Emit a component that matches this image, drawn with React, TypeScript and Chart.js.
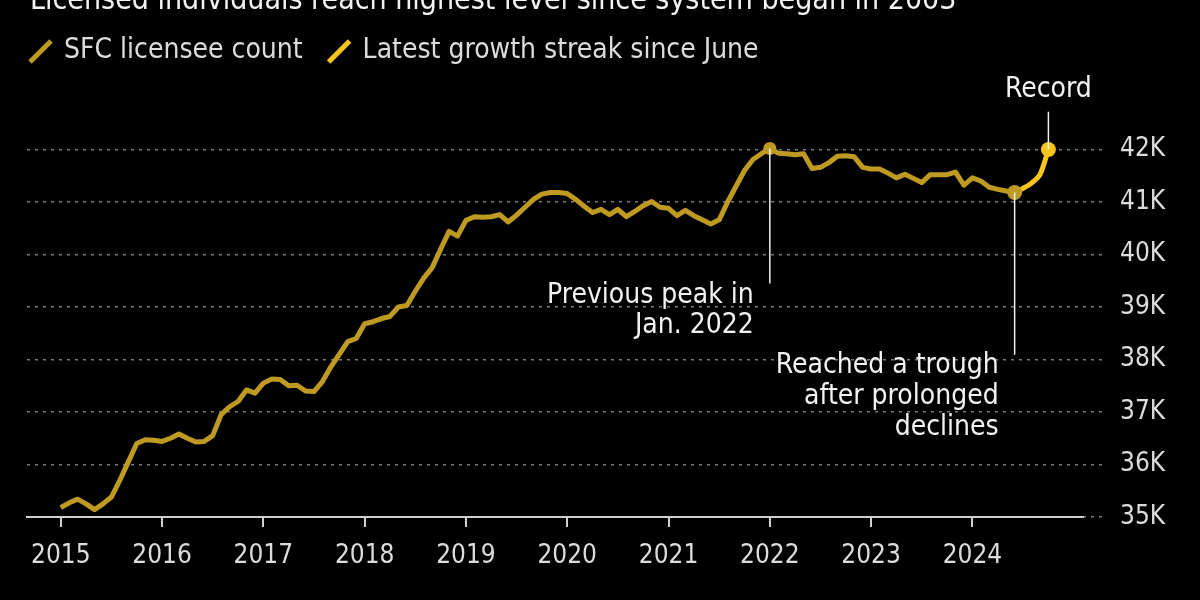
import { useEffect, useRef } from "react";
import { Chart, registerables } from "chart.js";

Chart.register(...registerables);

// ---- Data ----
const titleText = "Licensed individuals reach highest level since system began in 2003";
const seriesNames = ["SFC licensee count", "Latest growth streak since June"];
const startYear = 2015;
const yearTicks = [2015, 2016, 2017, 2018, 2019, 2020, 2021, 2022, 2023, 2024];
const yTickValues = [35, 36, 37, 38, 39, 40, 41, 42];

// Monthly licensee count (thousands), Jan 2015 – Oct 2024
const licenseeCount = [
  35.18, 35.27, 35.34, 35.25, 35.14, 35.25, 35.38, 35.7, 36.05, 36.4, 36.47, 36.46,
  36.44, 36.5, 36.58, 36.5, 36.43, 36.44, 36.55, 36.95, 37.1, 37.2, 37.42, 37.36,
  37.55, 37.63, 37.62, 37.5, 37.51, 37.4, 37.39, 37.58, 37.86, 38.1, 38.34, 38.4,
  38.68, 38.72, 38.78, 38.82, 39.0, 39.03, 39.3, 39.55, 39.75, 40.1, 40.44, 40.35,
  40.65, 40.72, 40.71, 40.72, 40.76, 40.62, 40.75, 40.9, 41.05, 41.15, 41.18, 41.18,
  41.16, 41.05, 40.92, 40.8, 40.86, 40.76, 40.86, 40.72, 40.82, 40.93, 41.01, 40.9,
  40.88, 40.74, 40.84, 40.74, 40.66, 40.58, 40.66, 41.0, 41.3, 41.6, 41.81, 41.92,
  42.02, 41.93, 41.92, 41.9, 41.92, 41.64, 41.66, 41.75, 41.87, 41.88, 41.86, 41.66,
  41.63, 41.63, 41.55, 41.46, 41.53, 41.45, 41.37, 41.52, 41.52, 41.52, 41.57, 41.32,
  41.46, 41.4, 41.28, 41.24, 41.21, 41.18, 41.26, 41.36, 41.52, 42.0,
];
const peakIndex = 84; // Jan 2022
const troughIndex = 113; // Jun 2024
const recordIndex = 117; // Oct 2024

const peakLabel = ["Previous peak in", "Jan. 2022"];
const troughLabel = ["Reached a trough", "after prolonged", "declines"];
const recordLabel = "Record";
const peakLineEnd = 39.45;
const troughLineEnd = 38.09;
const recordLineTop = 42.72;

// ---- Styles ----
const FONT = '"DejaVu Sans Condensed", "DejaVu Sans", sans-serif';
const MAIN = "#bf9a22";
const STREAK = "#f8c51c";
const TEXT = "#dcdcdc";
const WHITE = "#f2f2f2";

const mainData = licenseeCount.slice(0, troughIndex + 1).map((v, i) => ({ x: i, y: v }));
const streakData = licenseeCount.slice(troughIndex).map((v, i) => ({ x: i + troughIndex, y: v }));

const overlayPlugin = {
  id: "overlay",
  afterDraw(chart: any) {
    const ctx = chart.ctx as CanvasRenderingContext2D;
    const xs = chart.scales.x;
    const ys = chart.scales.y;
    ctx.save();
    // title (cut off at top)
    ctx.fillStyle = WHITE;
    ctx.font = `30px ${FONT}`;
    ctx.textBaseline = "alphabetic";
    ctx.textAlign = "left";
    ctx.fillText(titleText, 30, 9);

    // legend
    ctx.font = `28px ${FONT}`;
    ctx.textBaseline = "middle";
    let lx = 30;
    const colors = [MAIN, STREAK];
    seriesNames.forEach((name, i) => {
      ctx.strokeStyle = colors[i];
      ctx.lineWidth = 5;
      ctx.lineCap = "butt";
      ctx.beginPath();
      ctx.moveTo(lx, 62);
      ctx.lineTo(lx + 21, 41);
      ctx.stroke();
      ctx.fillStyle = TEXT;
      ctx.fillText(name, lx + 34, 51);
      lx = lx + 34 + ctx.measureText(name).width + 26;
    });

    // annotations
    ctx.strokeStyle = WHITE;
    ctx.lineWidth = 1.5;
    ctx.fillStyle = WHITE;
    ctx.font = `28px ${FONT}`;
    ctx.textBaseline = "middle";

    const px = xs.getPixelForValue(peakIndex);
    const pyTop = ys.getPixelForValue(licenseeCount[peakIndex]);
    const pyBot = ys.getPixelForValue(peakLineEnd);
    ctx.beginPath();
    ctx.moveTo(px, pyTop);
    ctx.lineTo(px, pyBot);
    ctx.stroke();
    ctx.textAlign = "right";
    peakLabel.forEach((t, i) => ctx.fillText(t, px - 16, pyBot + 12 + i * 30));

    const tx = xs.getPixelForValue(troughIndex);
    const tyTop = ys.getPixelForValue(licenseeCount[troughIndex]);
    const tyBot = ys.getPixelForValue(troughLineEnd);
    ctx.beginPath();
    ctx.moveTo(tx, tyTop);
    ctx.lineTo(tx, tyBot);
    ctx.stroke();
    troughLabel.forEach((t, i) => ctx.fillText(t, tx - 16, tyBot + 11 + i * 31));

    const rx = xs.getPixelForValue(recordIndex);
    const ryBot = ys.getPixelForValue(licenseeCount[recordIndex]);
    const ryTop = ys.getPixelForValue(recordLineTop);
    ctx.beginPath();
    ctx.moveTo(rx, ryBot);
    ctx.lineTo(rx, ryTop);
    ctx.stroke();
    ctx.textAlign = "center";
    ctx.fillText(recordLabel, rx, ryTop - 22);
    ctx.restore();
  },
};

export default function App() {
  const canvasRef = useRef<HTMLCanvasElement | null>(null);

  useEffect(() => {
    if (!canvasRef.current) return;
    const chart = new Chart(canvasRef.current, {
      type: "line",
      data: {
        datasets: [
          {
            label: seriesNames[0],
            data: mainData,
            borderColor: MAIN,
            backgroundColor: MAIN,
            borderWidth: 5,
            borderJoinStyle: "round",
            tension: 0,
            pointRadius: mainData.map((_, i) => (i === peakIndex ? 6.5 : i === troughIndex ? 7.5 : 0)),
            pointBorderWidth: 0,
          },
          {
            label: seriesNames[1],
            data: streakData,
            borderColor: STREAK,
            backgroundColor: STREAK,
            borderWidth: 5,
            tension: 0.3,
            pointRadius: streakData.map((p) => (p.x === recordIndex ? 7.5 : 0)),
            pointBorderWidth: 0,
          },
        ],
      },
      options: {
        animation: false,
        responsive: false,
        maintainAspectRatio: false,
        layout: { padding: { left: 27, top: 118, right: 0, bottom: 0 } },
        plugins: { legend: { display: false }, tooltip: { enabled: false }, title: { display: false } },
        scales: {
          x: {
            type: "linear",
            min: -4,
            max: 121.1,
            afterBuildTicks: (s: any) => {
              s.ticks = yearTicks.map((y) => ({ value: (y - startYear) * 12 }));
            },
            afterFit: (s: any) => {
              s.height = 83;
            },
            ticks: {
              color: TEXT,
              font: { family: FONT, size: 26 },
              padding: 14,
              maxRotation: 0,
              autoSkip: false,
              callback: (v: any) => String(startYear + Math.round(Number(v) / 12)),
            },
            grid: { drawOnChartArea: false, drawTicks: true, tickLength: 10, color: "#cfcfcf", lineWidth: 2 },
            border: { color: "#cfcfcf", width: 2 },
          },
          y: {
            position: "right",
            min: 35,
            max: 42.6,
            afterBuildTicks: (s: any) => {
              s.ticks = yTickValues.map((v) => ({ value: v }));
            },
            afterFit: (s: any) => {
              s.width = 117;
            },
            ticks: {
              color: TEXT,
              font: { family: FONT, size: 26 },
              padding: 15,
              callback: (v: any) => `${v}K`,
            },
            grid: {
              color: "#7a7a7a",
              lineWidth: 1.5,
              drawTicks: true,
              tickLength: 22,
              tickColor: "#7a7a7a",
              tickBorderDash: [3, 5],
            },
            border: { display: false, dash: [3, 5] },
          },
        },
      },
      plugins: [overlayPlugin],
    });
    return () => chart.destroy();
  }, []);

  return (
    <div style={{ position: "absolute", left: 0, top: 0, width: 1200, height: 600, background: "#000" }}>
      <canvas ref={canvasRef} width={1200} height={600} style={{ display: "block" }} />
    </div>
  );
}
